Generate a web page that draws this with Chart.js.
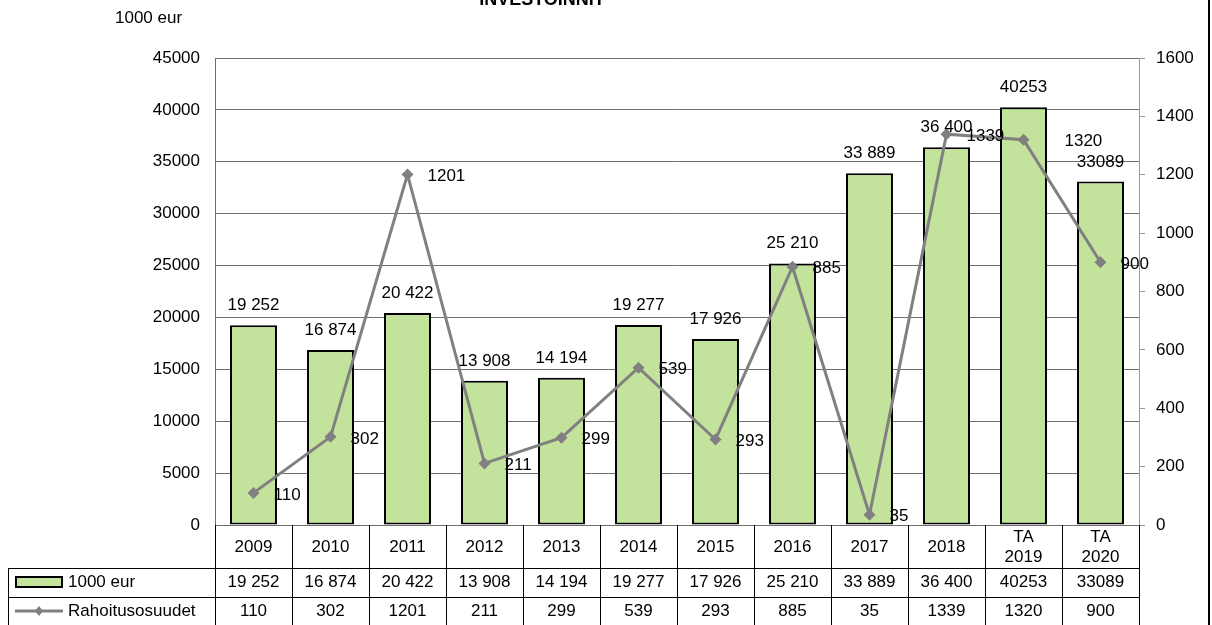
<!DOCTYPE html>
<html>
<head>
<meta charset="utf-8">
<script src="https://cdn.jsdelivr.net/npm/chart.js@4.4.1/dist/chart.umd.min.js"></script>
<style>
body { margin: 0; background: #fff; }
canvas { display: block; }
</style>
</head>
<body>
<canvas id="chart" width="1212" height="625"></canvas>
<script>
// data
const years = [['2009'], ['2010'], ['2011'], ['2012'], ['2013'], ['2014'], ['2015'], ['2016'], ['2017'], ['2018'], ['TA', '2019'], ['TA', '2020']];
const investments = [19252, 16874, 20422, 13908, 14194, 19277, 17926, 25210, 33889, 36400, 40253, 33089];
const investLabels = ['19 252', '16 874', '20 422', '13 908', '14 194', '19 277', '17 926', '25 210', '33 889', '36 400', '40253', '33089'];
const funding = [110, 302, 1201, 211, 299, 539, 293, 885, 35, 1339, 1320, 900];
const leftMax = 45000, leftStep = 5000;
const rightMax = 1600, rightStep = 200;

const FONT = "'Liberation Sans', Arial, sans-serif";
const FS = 17;
const green = '#c3e29b';
const gray = '#808080';

const tablePlugin = {
    id: 'tablePlugin',
    afterDraw(chart) {
        const ctx = chart.ctx;
        const x = chart.scales.x;
        const area = chart.chartArea;
        const colW = x.width / years.length;
        ctx.save();
        ctx.fillStyle = '#000';

        // title (cut off at top) and unit label
        ctx.font = 'bold 18px ' + FONT;
        ctx.textAlign = 'center';
        ctx.textBaseline = 'alphabetic';
        ctx.fillText('INVESTOINNIT', 542, 5);
        ctx.font = FS + 'px ' + FONT;
        ctx.textAlign = 'left';
        ctx.textBaseline = 'middle';
        ctx.fillText('1000 eur', 115, 18);

        // bar value labels
        const barMeta = chart.getDatasetMeta(1);
        ctx.textAlign = 'center';
        ctx.textBaseline = 'alphabetic';
        barMeta.data.forEach((el, i) => {
            ctx.fillText(investLabels[i], el.x, el.y - 15);
        });

        // line value labels
        const lineMeta = chart.getDatasetMeta(0);
        ctx.textAlign = 'left';
        ctx.textBaseline = 'middle';
        lineMeta.data.forEach((el, i) => {
            const dx = i === 10 ? 41 : 20;
            ctx.fillText(String(funding[i]), el.x + dx, el.y + 2);
        });

        // data table
        const top = area.bottom;
        const row2 = 568, row3 = 597, bottom = 625;
        ctx.strokeStyle = '#000';
        ctx.lineWidth = 1;
        ctx.beginPath();
        for (let i = 0; i <= years.length; i++) {
            const px = Math.round(x.left + colW * i) + 0.5;
            ctx.moveTo(px, top);
            ctx.lineTo(px, bottom);
        }
        ctx.moveTo(8.5, row2);
        ctx.lineTo(8.5, bottom);
        ctx.moveTo(8, row2 + 0.5);
        ctx.lineTo(x.right + 1, row2 + 0.5);
        ctx.moveTo(8, row3 + 0.5);
        ctx.lineTo(x.right + 1, row3 + 0.5);
        ctx.stroke();

        ctx.textAlign = 'center';
        ctx.textBaseline = 'middle';
        years.forEach((lab, i) => {
            const cx = x.getPixelForValue(i);
            if (lab.length === 1) {
                ctx.fillText(lab[0], cx, 547);
            } else {
                ctx.fillText(lab[0], cx, 537);
                ctx.fillText(lab[1], cx, 557);
            }
            ctx.fillText(investLabels[i], cx, 582);
            ctx.fillText(String(funding[i]), cx, 611);
        });

        // legend keys
        ctx.fillStyle = green;
        ctx.fillRect(16, 577, 46, 10);
        ctx.lineWidth = 2;
        ctx.strokeRect(16, 577, 46, 10);
        ctx.strokeStyle = gray;
        ctx.lineWidth = 3;
        ctx.beginPath();
        ctx.moveTo(15, 611);
        ctx.lineTo(63, 611);
        ctx.stroke();
        ctx.fillStyle = gray;
        ctx.beginPath();
        ctx.moveTo(39, 606);
        ctx.lineTo(43, 611);
        ctx.lineTo(39, 616);
        ctx.lineTo(35, 611);
        ctx.closePath();
        ctx.fill();
        ctx.fillStyle = '#000';
        ctx.textAlign = 'left';
        ctx.fillText('1000 eur', 68, 582);
        ctx.fillText('Rahoitusosuudet', 68, 611);

        // outer frame line on the right
        ctx.strokeStyle = '#000';
        ctx.lineWidth = 2;
        ctx.beginPath();
        ctx.moveTo(1209, 0);
        ctx.lineTo(1209, 625);
        ctx.stroke();
        ctx.restore();
    }
};

const ctx = document.getElementById('chart').getContext('2d');
const chart = new Chart(ctx, {
    type: 'bar',
    data: {
        labels: years,
        datasets: [{
            type: 'line',
            label: 'Rahoitusosuudet',
            data: funding,
            yAxisID: 'y2',
            borderColor: gray,
            backgroundColor: gray,
            borderWidth: 3,
            pointStyle: 'rectRot',
            pointRadius: 6,
            pointBorderWidth: 0,
            tension: 0,
            order: 0
        }, {
            label: '1000 eur',
            data: investments,
            yAxisID: 'y',
            backgroundColor: green,
            borderColor: '#000',
            borderWidth: 2,
            borderSkipped: false,
            barPercentage: 0.61,
            categoryPercentage: 1,
            order: 1
        }]
    },
    options: {
        responsive: false,
        animation: false,
        layout: { padding: { top: 58, left: 0, right: 0, bottom: 0 } },
        plugins: {
            legend: { display: false },
            tooltip: { enabled: false },
            title: { display: false }
        },
        scales: {
            x: {
                ticks: { display: false },
                grid: { display: false },
                border: { display: false },
                afterFit: s => { s.height = 100; }
            },
            y: {
                position: 'left',
                min: 0,
                max: leftMax,
                ticks: {
                    stepSize: leftStep,
                    color: '#000',
                    font: { family: FONT, size: FS },
                    padding: 15,
                    callback: v => String(v)
                },
                grid: { color: '#6e6e6e', drawTicks: false },
                border: { color: '#6e6e6e' },
                afterFit: s => { s.width = 215; }
            },
            y2: {
                position: 'right',
                min: 0,
                max: rightMax,
                ticks: {
                    stepSize: rightStep,
                    color: '#000',
                    font: { family: FONT, size: FS },
                    padding: 11,
                    callback: v => String(v)
                },
                grid: { drawOnChartArea: false, color: '#9a9a9a', tickLength: 6 },
                border: { color: '#9a9a9a' },
                afterFit: s => { s.width = 73; }
            }
        }
    },
    plugins: [tablePlugin]
});
</script>
</body>
</html>
